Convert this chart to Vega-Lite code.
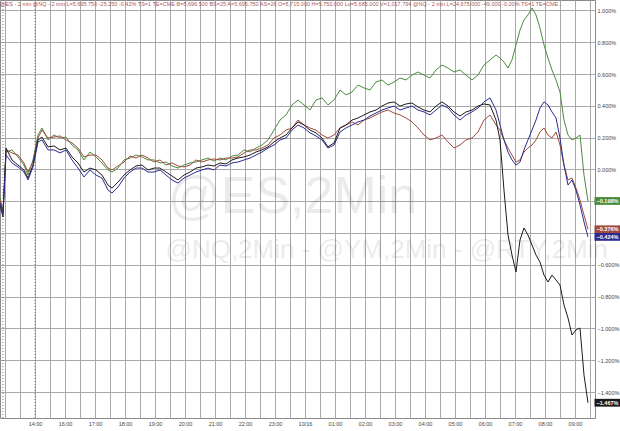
{
  "$schema": "https://vega.github.io/schema/vega-lite/v6.json",
  "width": 595,
  "height": 418,
  "autosize": {"type": "none"},
  "padding": {"left": 0, "top": 0, "right": 25, "bottom": 13},
  "background": "white",
  "title": {
    "text": "@ES - 2 min   @NQ - 2 min   L=5,695.750   -25.250   -0.42%   TS=1   TE=CME   B=5,696.500   BS=25   A=5,695.750   AS=26   O=5,715.000   H=5,750.000   Lo=5,685.000   V=1,017,794   @NQ - 2 min   L=24,675.000   -49.000   -0.20%   TS=1   TE=CME...",
    "anchor": "start",
    "offset": -8,
    "fontSize": 5.5,
    "fontWeight": "normal",
    "font": "Liberation Sans",
    "color": "#a85a5a",
    "frame": "group"
  },
  "config": {
    "view": {"stroke": "#8a8a8a", "strokeWidth": 1},
    "font": "Liberation Sans",
    "axis": {
      "labelFontSize": 5.5, "labelColor": "#444444",
      "labelFlush": false, "labelBound": false
    }
  },
  "datasets": {
    "prices": [
      {"t": -1.167, "NQ": -0.179, "YM": -0.192, "ES": -0.211, "RTY": -0.223},
      {"t": -1.067, "NQ": -0.255, "YM": -0.267, "ES": -0.280, "RTY": -0.299},
      {"t": -0.967, "NQ": 0.110, "YM": 0.123, "ES": 0.091, "RTY": 0.135},
      {"t": -0.767, "NQ": 0.123, "YM": 0.104, "ES": 0.041, "RTY": 0.060},
      {"t": -0.567, "NQ": 0.079, "YM": 0.091, "ES": 0.016, "RTY": 0.028},
      {"t": -0.367, "NQ": 0.028, "YM": 0.041, "ES": -0.016, "RTY": -0.003},
      {"t": -0.233, "NQ": -0.035, "YM": -0.016, "ES": -0.066, "RTY": -0.054},
      {"t": -0.067, "NQ": 0.060, "YM": 0.047, "ES": 0.016, "RTY": 0.028},
      {"t": 0.1, "NQ": 0.217, "YM": 0.198, "ES": 0.173, "RTY": 0.186},
      {"t": 0.233, "NQ": 0.261, "YM": 0.248, "ES": 0.186, "RTY": 0.204},
      {"t": 0.433, "NQ": 0.186, "YM": 0.198, "ES": 0.123, "RTY": 0.142},
      {"t": 0.633, "NQ": 0.217, "YM": 0.204, "ES": 0.123, "RTY": 0.148},
      {"t": 0.833, "NQ": 0.198, "YM": 0.211, "ES": 0.104, "RTY": 0.123},
      {"t": 1.033, "NQ": 0.204, "YM": 0.186, "ES": 0.123, "RTY": 0.135},
      {"t": 1.233, "NQ": 0.154, "YM": 0.167, "ES": 0.060, "RTY": 0.079},
      {"t": 1.433, "NQ": 0.123, "YM": 0.135, "ES": 0.009, "RTY": 0.041},
      {"t": 1.633, "NQ": 0.060, "YM": 0.079, "ES": -0.047, "RTY": -0.016},
      {"t": 1.833, "NQ": 0.110, "YM": 0.091, "ES": -0.003, "RTY": 0.009},
      {"t": 2.033, "NQ": 0.079, "YM": 0.091, "ES": -0.035, "RTY": -0.003},
      {"t": 2.233, "NQ": 0.041, "YM": 0.060, "ES": -0.054, "RTY": -0.035},
      {"t": 2.433, "NQ": -0.003, "YM": 0.009, "ES": -0.129, "RTY": -0.098},
      {"t": 2.567, "NQ": -0.016, "YM": -0.003, "ES": -0.148, "RTY": -0.117},
      {"t": 2.767, "NQ": 0.009, "YM": 0.022, "ES": -0.110, "RTY": -0.079},
      {"t": 2.967, "NQ": 0.060, "YM": 0.047, "ES": -0.054, "RTY": -0.035},
      {"t": 3.167, "NQ": 0.072, "YM": 0.085, "ES": -0.016, "RTY": -0.003},
      {"t": 3.367, "NQ": 0.091, "YM": 0.072, "ES": 0.009, "RTY": 0.022},
      {"t": 3.567, "NQ": 0.079, "YM": 0.091, "ES": 0.009, "RTY": 0.028},
      {"t": 3.767, "NQ": 0.060, "YM": 0.072, "ES": -0.016, "RTY": -0.003},
      {"t": 3.967, "NQ": 0.060, "YM": 0.047, "ES": -0.016, "RTY": 0.009},
      {"t": 4.167, "NQ": 0.041, "YM": 0.060, "ES": -0.003, "RTY": 0.009},
      {"t": 4.367, "NQ": 0.047, "YM": 0.028, "ES": -0.035, "RTY": -0.016},
      {"t": 4.567, "NQ": 0.022, "YM": 0.041, "ES": -0.066, "RTY": -0.041},
      {"t": 4.767, "NQ": 0.009, "YM": 0.022, "ES": -0.085, "RTY": -0.066},
      {"t": 4.967, "NQ": 0.028, "YM": 0.016, "ES": -0.054, "RTY": -0.035},
      {"t": 5.167, "NQ": 0.041, "YM": 0.028, "ES": -0.035, "RTY": -0.016},
      {"t": 5.367, "NQ": 0.047, "YM": 0.060, "ES": -0.016, "RTY": 0.009},
      {"t": 5.567, "NQ": 0.060, "YM": 0.047, "ES": -0.003, "RTY": 0.016},
      {"t": 5.767, "NQ": 0.072, "YM": 0.060, "ES": 0.009, "RTY": 0.028},
      {"t": 5.967, "NQ": 0.053, "YM": 0.066, "ES": -0.003, "RTY": 0.022},
      {"t": 6.167, "NQ": 0.072, "YM": 0.060, "ES": 0.028, "RTY": 0.041},
      {"t": 6.367, "NQ": 0.060, "YM": 0.072, "ES": 0.022, "RTY": 0.035},
      {"t": 6.567, "NQ": 0.085, "YM": 0.072, "ES": 0.041, "RTY": 0.060},
      {"t": 6.767, "NQ": 0.091, "YM": 0.079, "ES": 0.047, "RTY": 0.072},
      {"t": 6.967, "NQ": 0.123, "YM": 0.104, "ES": 0.060, "RTY": 0.079},
      {"t": 7.167, "NQ": 0.110, "YM": 0.123, "ES": 0.072, "RTY": 0.091},
      {"t": 7.367, "NQ": 0.135, "YM": 0.123, "ES": 0.091, "RTY": 0.110},
      {"t": 7.567, "NQ": 0.154, "YM": 0.135, "ES": 0.110, "RTY": 0.123},
      {"t": 7.767, "NQ": 0.186, "YM": 0.154, "ES": 0.135, "RTY": 0.142},
      {"t": 7.967, "NQ": 0.248, "YM": 0.198, "ES": 0.154, "RTY": 0.173},
      {"t": 8.167, "NQ": 0.311, "YM": 0.217, "ES": 0.186, "RTY": 0.198},
      {"t": 8.367, "NQ": 0.343, "YM": 0.248, "ES": 0.198, "RTY": 0.217},
      {"t": 8.567, "NQ": 0.406, "YM": 0.261, "ES": 0.248, "RTY": 0.261},
      {"t": 8.767, "NQ": 0.437, "YM": 0.311, "ES": 0.280, "RTY": 0.299},
      {"t": 8.967, "NQ": 0.406, "YM": 0.280, "ES": 0.261, "RTY": 0.280},
      {"t": 9.167, "NQ": 0.374, "YM": 0.261, "ES": 0.230, "RTY": 0.248},
      {"t": 9.367, "NQ": 0.437, "YM": 0.248, "ES": 0.211, "RTY": 0.230},
      {"t": 9.567, "NQ": 0.450, "YM": 0.217, "ES": 0.186, "RTY": 0.198},
      {"t": 9.767, "NQ": 0.406, "YM": 0.198, "ES": 0.135, "RTY": 0.142},
      {"t": 9.967, "NQ": 0.437, "YM": 0.217, "ES": 0.154, "RTY": 0.167},
      {"t": 10.167, "NQ": 0.500, "YM": 0.261, "ES": 0.236, "RTY": 0.261},
      {"t": 10.367, "NQ": 0.469, "YM": 0.280, "ES": 0.261, "RTY": 0.280},
      {"t": 10.567, "NQ": 0.487, "YM": 0.299, "ES": 0.280, "RTY": 0.311},
      {"t": 10.767, "NQ": 0.531, "YM": 0.280, "ES": 0.299, "RTY": 0.324},
      {"t": 10.967, "NQ": 0.513, "YM": 0.311, "ES": 0.311, "RTY": 0.343},
      {"t": 11.167, "NQ": 0.500, "YM": 0.324, "ES": 0.336, "RTY": 0.362},
      {"t": 11.367, "NQ": 0.550, "YM": 0.343, "ES": 0.355, "RTY": 0.374},
      {"t": 11.567, "NQ": 0.563, "YM": 0.362, "ES": 0.374, "RTY": 0.399},
      {"t": 11.767, "NQ": 0.531, "YM": 0.374, "ES": 0.387, "RTY": 0.418},
      {"t": 11.967, "NQ": 0.550, "YM": 0.355, "ES": 0.399, "RTY": 0.425},
      {"t": 12.167, "NQ": 0.575, "YM": 0.343, "ES": 0.374, "RTY": 0.399},
      {"t": 12.367, "NQ": 0.563, "YM": 0.324, "ES": 0.387, "RTY": 0.412},
      {"t": 12.567, "NQ": 0.594, "YM": 0.299, "ES": 0.399, "RTY": 0.418},
      {"t": 12.767, "NQ": 0.613, "YM": 0.261, "ES": 0.374, "RTY": 0.393},
      {"t": 12.967, "NQ": 0.594, "YM": 0.217, "ES": 0.362, "RTY": 0.374},
      {"t": 13.167, "NQ": 0.575, "YM": 0.186, "ES": 0.343, "RTY": 0.362},
      {"t": 13.367, "NQ": 0.626, "YM": 0.198, "ES": 0.374, "RTY": 0.399},
      {"t": 13.567, "NQ": 0.657, "YM": 0.217, "ES": 0.406, "RTY": 0.425},
      {"t": 13.767, "NQ": 0.638, "YM": 0.173, "ES": 0.387, "RTY": 0.399},
      {"t": 13.967, "NQ": 0.613, "YM": 0.135, "ES": 0.343, "RTY": 0.362},
      {"t": 14.167, "NQ": 0.626, "YM": 0.154, "ES": 0.311, "RTY": 0.336},
      {"t": 14.367, "NQ": 0.594, "YM": 0.186, "ES": 0.343, "RTY": 0.362},
      {"t": 14.567, "NQ": 0.563, "YM": 0.198, "ES": 0.362, "RTY": 0.374},
      {"t": 14.767, "NQ": 0.594, "YM": 0.236, "ES": 0.387, "RTY": 0.399},
      {"t": 14.967, "NQ": 0.657, "YM": 0.311, "ES": 0.425, "RTY": 0.412},
      {"t": 15.167, "NQ": 0.689, "YM": 0.343, "ES": 0.450, "RTY": 0.406},
      {"t": 15.367, "NQ": 0.720, "YM": 0.280, "ES": 0.374, "RTY": 0.311},
      {"t": 15.5, "NQ": 0.701, "YM": 0.248, "ES": 0.280, "RTY": 0.186},
      {"t": 15.633, "NQ": 0.676, "YM": 0.186, "ES": 0.186, "RTY": -0.129},
      {"t": 15.767, "NQ": 0.638, "YM": 0.135, "ES": 0.110, "RTY": -0.412},
      {"t": 15.9, "NQ": 0.689, "YM": 0.091, "ES": 0.060, "RTY": -0.538},
      {"t": 16.033, "NQ": 0.783, "YM": 0.047, "ES": 0.028, "RTY": -0.645},
      {"t": 16.167, "NQ": 0.877, "YM": 0.060, "ES": 0.047, "RTY": -0.443},
      {"t": 16.3, "NQ": 0.940, "YM": 0.110, "ES": 0.123, "RTY": -0.368},
      {"t": 16.433, "NQ": 0.972, "YM": 0.135, "ES": 0.186, "RTY": -0.412},
      {"t": 16.567, "NQ": 1.016, "YM": 0.154, "ES": 0.248, "RTY": -0.475},
      {"t": 16.7, "NQ": 0.972, "YM": 0.186, "ES": 0.311, "RTY": -0.538},
      {"t": 16.833, "NQ": 0.890, "YM": 0.236, "ES": 0.387, "RTY": -0.582},
      {"t": 16.967, "NQ": 0.783, "YM": 0.261, "ES": 0.425, "RTY": -0.664},
      {"t": 17.1, "NQ": 0.701, "YM": 0.217, "ES": 0.406, "RTY": -0.708},
      {"t": 17.233, "NQ": 0.626, "YM": 0.198, "ES": 0.362, "RTY": -0.664},
      {"t": 17.367, "NQ": 0.563, "YM": 0.236, "ES": 0.324, "RTY": -0.695},
      {"t": 17.5, "NQ": 0.487, "YM": 0.154, "ES": 0.198, "RTY": -0.727},
      {"t": 17.633, "NQ": 0.311, "YM": 0.028, "ES": 0.028, "RTY": -0.852},
      {"t": 17.767, "NQ": 0.217, "YM": -0.066, "ES": -0.098, "RTY": -0.934},
      {"t": 17.9, "NQ": 0.186, "YM": -0.054, "ES": -0.066, "RTY": -1.041},
      {"t": 18.033, "NQ": 0.198, "YM": -0.117, "ES": -0.129, "RTY": -1.009},
      {"t": 18.167, "NQ": 0.217, "YM": -0.192, "ES": -0.223, "RTY": -0.997},
      {"t": 18.3, "NQ": -0.035, "YM": -0.286, "ES": -0.330, "RTY": -1.292},
      {"t": 18.433, "NQ": -0.198, "YM": -0.376, "ES": -0.424, "RTY": -1.467}
    ],
    "breaks": [{"t": -1.067}, {"t": 0}]
  },
  "layer": [
    {
      "data": {"name": "prices"},
      "transform": [{"fold": ["NQ", "YM", "RTY", "ES"], "as": ["series", "value"]}],
      "mark": {"type": "line", "strokeWidth": 1, "opacity": 0},
      "encoding": {
        "x": {
          "field": "t", "type": "quantitative", "title": null,
          "scale": {"domain": [-1.167, 18.667], "nice": false, "zero": false},
          "axis": {
            "values": [-1, -0.5, 0, 0.5, 1, 1.5, 2, 2.5, 3, 3.5, 4, 4.5, 5, 5.5, 6, 6.5, 7, 7.5, 8, 8.5, 9, 9.5, 10, 10.5, 11, 11.5, 12, 12.5, 13, 13.5, 14, 14.5, 15, 15.5, 16, 16.5, 17, 17.5, 18, 18.5],
            "tickCount": 200,
            "labelExpr": "datum.value >= 0 && datum.value % 1 == 0 ? ['14:00','16:00','17:00','18:00','19:00','20:00','21:00','22:00','23:00','10/16','01:00','02:00','03:00','04:00','05:00','06:00','07:00','08:00','09:00'][datum.value] : ''",
            "grid": true, "gridColor": "#a8a8a8", "gridOpacity": 1, "gridWidth": 1, "gridDash": [],
            "ticks": false, "domain": false,
            "labelOverlap": false, "labelPadding": 3
          }
        },
        "y": {
          "field": "value", "type": "quantitative", "title": null,
          "scale": {"domain": [-1.563, 1.066], "nice": false, "zero": false},
          "axis": {
            "orient": "right",
            "values": [-1.4, -1.2, -1.0, -0.8, -0.6, -0.4, -0.2, 0, 0.2, 0.4, 0.6, 0.8, 1.0],
            "tickCount": 200,
            "labelExpr": "format(datum.value, '.3f') + '%'",
            "grid": true, "gridColor": "#a8a8a8", "gridOpacity": 1, "gridWidth": 1, "gridDash": [],
            "ticks": false, "domain": false,
            "labelOverlap": false, "labelPadding": 2
          }
        },
        "detail": {"field": "series", "type": "nominal"}
      }
    },
    {
      "data": {"values": [{"label": "@ES,2Min"}]},
      "mark": {"type": "text", "align": "left", "baseline": "alphabetic", "fontSize": 52, "font": "Liberation Sans", "color": "#000000", "opacity": 0.075},
      "encoding": {
        "x": {"datum": 4.43, "type": "quantitative", "title": null},
        "y": {"datum": -0.274, "type": "quantitative", "title": null},
        "text": {"field": "label"}
      }
    },
    {
      "data": {"values": [{"label": "@NQ,2Min - @YM,2Min - @RTY,2Min"}]},
      "mark": {"type": "text", "align": "left", "baseline": "alphabetic", "fontSize": 26, "font": "Liberation Sans", "color": "#000000", "opacity": 0.075},
      "encoding": {
        "x": {"datum": 4.35, "type": "quantitative", "title": null},
        "y": {"datum": -0.557, "type": "quantitative", "title": null},
        "text": {"field": "label"}
      }
    },
    {
      "data": {"name": "breaks"},
      "mark": {"type": "rule", "color": "#777777", "strokeWidth": 1, "strokeDash": [1, 2]},
      "encoding": {
        "x": {"field": "t", "type": "quantitative", "title": null}
      }
    },
    {
      "data": {"name": "prices"},
      "transform": [{"fold": ["NQ", "YM", "RTY", "ES"], "as": ["series", "value"]}],
      "mark": {"type": "line", "strokeWidth": 1},
      "encoding": {
        "x": {"field": "t", "type": "quantitative", "title": null},
        "y": {"field": "value", "type": "quantitative", "title": null},
        "color": {
          "field": "series", "type": "nominal", "legend": null,
          "scale": {"domain": ["NQ", "YM", "RTY", "ES"], "range": ["#4a8c3c", "#a04a40", "#1c1c1c", "#2c2c90"]}
        }
      }
    },
    {
      "data": {"name": "prices"},
      "transform": [
        {"filter": "datum.t == 18.433"},
        {"fold": ["NQ", "YM", "RTY", "ES"], "as": ["series", "value"]}
      ],
      "mark": {"type": "point", "shape": "M-1,-0.3H1V0.3H-1Z", "size": 676, "filled": true, "opacity": 1, "strokeWidth": 0, "xOffset": 19.5},
      "encoding": {
        "x": {"field": "t", "type": "quantitative", "title": null},
        "y": {"field": "value", "type": "quantitative", "title": null},
        "color": {"field": "series", "type": "nominal", "legend": null}
      }
    },
    {
      "data": {"name": "prices"},
      "transform": [
        {"filter": "datum.t == 18.433"},
        {"fold": ["NQ", "YM", "RTY", "ES"], "as": ["series", "value"]}
      ],
      "mark": {"type": "text", "xOffset": 19.5, "color": "white", "fontSize": 5.5, "fontWeight": "bold", "align": "center", "baseline": "middle", "text": {"expr": "format(datum.value, '.3f') + '%'"}},
      "encoding": {
        "x": {"field": "t", "type": "quantitative", "title": null},
        "y": {"field": "value", "type": "quantitative", "title": null}
      }
    }
  ]
}
